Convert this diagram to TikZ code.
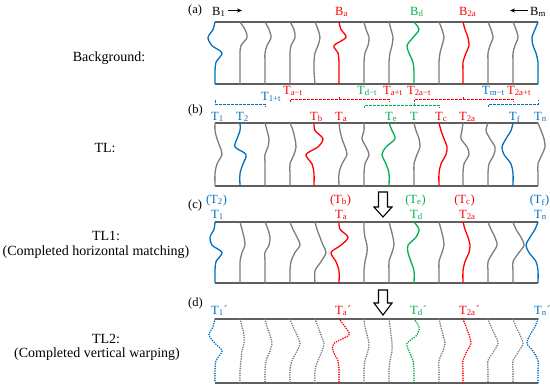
\documentclass[tikz,border=0pt]{standalone}
\usepackage{fontspec}
\setmainfont{Liberation Serif}
\usetikzlibrary{arrows.meta}
\definecolor{tblue}{RGB}{0,112,192}
\definecolor{tred}{RGB}{255,0,0}
\definecolor{tgreen}{RGB}{0,176,80}
\definecolor{tgray}{RGB}{125,125,125}
\definecolor{lgray}{RGB}{95,95,95}
\newcommand{\Tsub}[1]{T\textsubscript{#1}}
\newcommand{\Bsub}[1]{B\textsubscript{#1}}
\begin{document}
\begin{tikzpicture}[
        x=1pt, y=-1pt,
        every node/.style={font=\fontsize{12.5}{14}\selectfont, inner sep=0pt},
        lbl/.style={anchor=base west},
        par/.style={anchor=base},
        side/.style={anchor=base, font=\fontsize{14}{16}\selectfont},
        trace/.style={line width=1.3pt},
        dots/.style={line width=1.8pt, line cap=round, dash pattern=on 0pt off 2.4pt},
        hline/.style={draw=lgray, line width=1.1pt},
        brk/.style={line width=0.8pt, dash pattern=on 2.5pt off 1.5pt},
        arrow/.style={-{Stealth[length=5pt, width=4pt]}, line width=0.6pt, shorten <=2pt},
        hollow/.style={draw, fill=white, line width=1.1pt, line join=miter}
      ]
      \useasboundingbox (0,0) rectangle (550,386);

      % left captions
      \node[side] (bg)   at (109,61)  {Background:};
      \node[side] (tl)   at (105,152) {TL:};
      \node[side] (tl1)  at (106,240) {TL1:};
      \node[side] (tl1s) at (96,255)  {(Completed horizontal matching)};
      \node[side] (tl2)  at (106,343) {TL2:};
      \node[side] (tl2s) at (97,357)  {(Completed vertical warping)};

      % (a) background
      \node[lbl] (pa) at (188,13) {(a)};
      \node[lbl] (b1a) at (212,15) {\Bsub{1}};
      \node[lbl, text=tred]   (baa) at (335,15) {\Bsub{a}};
      \node[lbl, text=tgreen] (bda) at (410,15) {\Bsub{d}};
      \node[lbl, text=tred]   (b2a) at (459,15) {\Bsub{2a}};
      \node[lbl] (bma) at (530,15) {\Bsub{m}};
      \coordinate (ar1) at (242,10.5);
      \coordinate (arm) at (510,10.5);
      \draw[arrow] (b1a.east |- ar1) -- (ar1);
      \draw[arrow] (bma.west |- arm) -- (arm);

      \draw[hline] (215,22) -- (538,22);
      \draw[hline] (215,84) -- (538,84);
      \begin{scope}[shift={(0,22)}, yscale=62]
        \foreach \xx/\col/\pa/\pb/\pc/\pd/\pe/\pf in {
            215/tblue/-2/-7/-3/7/1/0, 240/tgray/5/7/1/0/0/0,
            265/tgray/4/6/2/0/0/0, 290/tgray/4/5/1/0/0/0,
            315/tgray/3/5/3/0/-1/-1, 339/tred/2/7/-5/-1/0/0,
            364/tgray/2/5/4/1/0/0, 389/tgray/2/4/3/1/0/0,
            414/tgreen/5/-1/-7/-5/-1/0, 439/tgray/3/5/3/1/0/0,
            463/tred/2/5/6/3/0/0, 488/tgray/3/5/2/0/0/0,
            513/tgray/3/5/2/0/0/0, 538/tblue/-3/-6/-5/-2/0/0}{
            \draw[trace, draw=\col] plot[smooth] coordinates {(\xx,0)
                (\xx+\pa,.12) (\xx+\pb,.25) (\xx+\pc,.38) (\xx+\pd,.5)
                (\xx+\pe,.65) (\xx+\pf,.8) (\xx,1)};
          }
      \end{scope}

      % (b) TL
      \node[lbl] (pb) at (188,113) {(b)};
      \node[lbl, text=tblue]  (t1t) at (261,100) {\Tsub{1+t}};
      \node[lbl, text=tred]   (tamt) at (283,94) {\Tsub{a−t}};
      \node[lbl, text=tgreen] (tdmt) at (357,94) {\Tsub{d−t}};
      \node[lbl, text=tred]   (tapt) at (383,94) {\Tsub{a+t}};
      \node[lbl, text=tred]   (t2amt) at (407,94) {\Tsub{2a−t}};
      \node[lbl, text=tblue]  (tmmt) at (482,94) {\Tsub{m−t}};
      \node[lbl, text=tred]   (t2apt) at (507,94) {\Tsub{2a+t}};

      \draw[brk, tblue] (215,100) -- (215,104) -- (265,104) -- (265,107);
      \draw[brk, tred] (290,102) -- (290,99) -- (389,99) -- (389,102);
      \draw[brk, tred] (339,99) -- (339,96);
      \draw[brk, tred] (414,102) -- (414,99) -- (513,99) -- (513,102);
      \draw[brk, tred] (463,99) -- (463,96);
      \draw[brk, tgreen] (364,108) -- (364,105) -- (439,105) -- (439,108);
      \draw[brk, tgreen] (414,105) -- (414,102);
      \draw[brk, tblue] (488,107) -- (488,104) -- (538,104) -- (538,100);

      \foreach \xx/\col/\s/\nm in {215/tblue/1/tb1, 240/tblue/2/tb2,
          314/tred/b/tbb, 339/tred/a/tba, 389/tgreen/e/tbe,
          439/tred/c/tbc, 463/tred/2a/tb2a, 513/tblue/f/tbf, 538/tblue/n/tbn}{
          \node[lbl, text=\col] (\nm) at (\xx-4,120) {\Tsub{\s}};
        }
      \node[lbl, text=tgreen] (tbt) at (410,120) {T};

      \draw[hline] (215,123) -- (538,123);
      \draw[hline] (215,186) -- (538,186);
      \begin{scope}[shift={(0,123)}, yscale=63]
        \foreach \xx/\col/\pa/\pb/\pc/\pd/\pe/\pf in {
            215/tgray/0/2/5/7/2/0, 240/tblue/0/-3/-5/6/3/0,
            265/tgray/2/4/3/0/0/0, 290/tgray/3/5/6/4/0/0,
            314/tred/1/9/4/-8/-2/0, 339/tgray/1/3/6/8/3/0,
            364/tgray/0/-2/2/5/1/0, 389/tgreen/3/6/-3/-7/-3/0,
            414/tgray/2/5/6/3/0/0, 439/tred/2/5/8/7/2/0,
            463/tgray/-1/-2/4/6/1/0, 488/tgray/-2/2/7/6/1/0,
            513/tblue/-2/-7/-11/-9/-2/0, 538/tgray/3/6/7/4/0/0}{
            \draw[trace, draw=\col] plot[smooth] coordinates {(\xx,0)
                (\xx+\pa,.12) (\xx+\pb,.25) (\xx+\pc,.38) (\xx+\pd,.5)
                (\xx+\pe,.65) (\xx+\pf,.8) (\xx,1)};
          }
      \end{scope}

      % (c) TL1
      \draw[hollow] (378.5,192) -- (387.5,192) -- (387.5,207) -- (392,207)
        -- (383,217) -- (374,207) -- (378.5,207) -- cycle;
      \node[lbl] (pc) at (188,208) {(c)};
      \foreach \xx/\col/\s/\o/\nm in {215/tblue/1/2/c1, 339/tred/a/b/ca,
          414/tgreen/d/e/cd, 463/tred/2a/c/c2a, 538/tblue/n/f/cn}{
          \node[lbl, text=\col] (\nm) at (\xx-4,218) {\Tsub{\s}};
          \node[par, text=\col] (\nm o) at (\xx+1.5,203) {(\Tsub{\o})};
        }

      \draw[hline] (215,222) -- (538,222);
      \draw[hline] (215,283) -- (538,283);
      \begin{scope}[shift={(0,222)}, yscale=61]
        \foreach \xx/\col/\pa/\pb/\pc/\pd/\pe/\pf in {
            215/tblue/-1/-5/-3/7/1/0, 240/tgray/2/4/5/2/0/0,
            265/tgray/3/5/4/0/0/0, 290/tgray/3/7/10/5/1/0,
            315/tgray/2/5/8/11/6/0, 339/tred/1/9/2/-8/-3/0,
            364/tgray/0/1/3/3/1/0, 389/tgray/2/4/5/3/0/0,
            414/tgreen/5/2/-6/-6/-3/0, 439/tgray/2/4/5/3/0/0,
            463/tred/2/5/7/6/2/0, 488/tgray/3/7/9/5/0/0,
            513/tgray/3/8/11/6/0/0, 538/tblue/-3/-8/-12/-9/-2/0}{
            \draw[trace, draw=\col] plot[smooth] coordinates {(\xx,0)
                (\xx+\pa,.12) (\xx+\pb,.25) (\xx+\pc,.38) (\xx+\pd,.5)
                (\xx+\pe,.65) (\xx+\pf,.8) (\xx,1)};
          }
      \end{scope}

      % (d) TL2
      \draw[hollow] (378.5,290) -- (387.5,290) -- (387.5,303) -- (392,303)
        -- (383,315) -- (374,303) -- (378.5,303) -- cycle;
      \node[lbl] (pd) at (188,306) {(d)};
      \foreach \xx/\col/\s/\nm in {215/tblue/1/d1, 339/tred/a/da,
          414/tgreen/d/dd, 463/tred/2a/d2a, 538/tblue/n/dn}{
          \node[lbl, text=\col] (\nm) at (\xx-4,314) {\Tsub{\s}´};
        }

      \draw[hline, line width=1.6pt] (215,319) -- (538,319);
      \draw[hline, line width=1.6pt] (215,383) -- (538,383);
      \begin{scope}[shift={(0,319)}, yscale=64]
        \foreach \xx/\col/\pa/\pb/\pc/\pd/\pe/\pf in {
            215/tblue/-2/-6/0/7/1/0, 240/tgray/2/4/4/2/1/0,
            265/tgray/2/5/7/5/1/0, 290/tgray/3/7/10/7/2/0,
            315/tgray/3/6/9/7/3/0, 339/tred/6/10/-5/-6/-1/0,
            364/tgray/1/3/5/4/1/0, 389/tgray/1/2/3/3/1/0,
            414/tgreen/5/3/-7/-5/-1/0, 439/tgray/2/4/6/4/0/0,
            463/tred/3/6/8/4/0/0, 488/tgray/3/7/10/6/0/0,
            513/tgray/3/7/10/6/0/0, 538/tblue/-3/-8/-11/-5/0/0}{
            \draw[trace, dots, draw=\col] plot[smooth] coordinates {(\xx,0)
                (\xx+\pa,.12) (\xx+\pb,.25) (\xx+\pc,.38) (\xx+\pd,.5)
                (\xx+\pe,.65) (\xx+\pf,.8) (\xx,1)};
          }
      \end{scope}
    \end{tikzpicture}
\end{document}
